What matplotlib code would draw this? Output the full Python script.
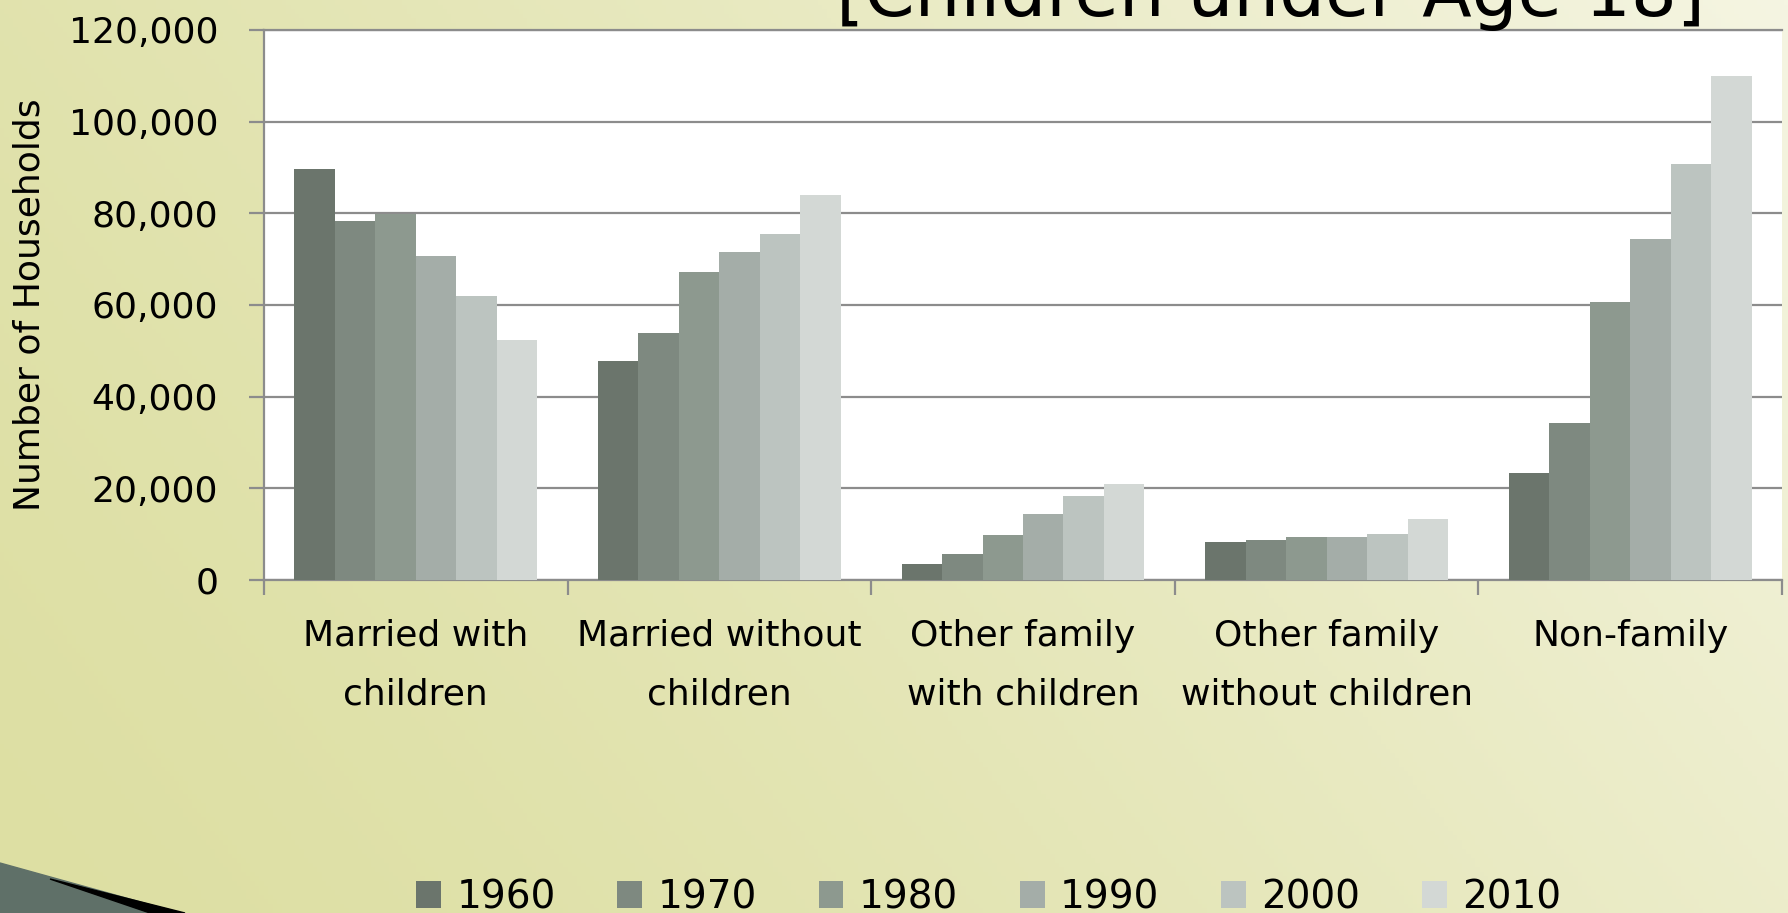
import matplotlib
matplotlib.use("Agg")
import matplotlib.pyplot as plt
import numpy as np

# data
categories = ["Married with\nchildren", "Married without\nchildren", "Other family\nwith children",
              "Other family\nwithout children", "Non-family"]
years = ["1960", "1970", "1980", "1990", "2000", "2010"]
married_with = [89600, 78400, 79800, 70700, 62000, 52400]
married_without = [47700, 53900, 67300, 71600, 75500, 84000]
other_with = [3600, 5600, 9900, 14400, 18400, 21000]
other_without = [8400, 8800, 9300, 9300, 10100, 13300]
non_family = [23400, 34300, 60700, 74400, 90800, 110000]
yticks = [0, 20000, 40000, 60000, 80000, 100000, 120000]

colors = ["#6b756c", "#7e8980", "#8d998f", "#a4ada8", "#bcc4c0", "#d3d8d5"]

W, H = 1788, 913
fig = plt.figure(figsize=(W / 100, H / 100), dpi=100)

# slide background gradient
bg = fig.add_axes([0, 0, 1, 1], zorder=-5)
xx, yy = np.meshgrid(np.linspace(0, 1, 400), np.linspace(1, 0, 200))
s = np.clip(0.72 * xx + 0.28 * yy, 0, 1) ** 1.4
c0 = np.array([221, 223, 163]) / 255
c1 = np.array([245, 245, 226]) / 255
img = c0[None, None, :] + (c1 - c0)[None, None, :] * s[:, :, None]
bg.imshow(img, extent=[0, W, 0, H], aspect="auto", origin="upper")
# corner shape bottom-left
bg.fill([0, 180, 0], [H - 863, 0, 0], color="#5f7068", zorder=2)
bg.fill([50, 185, 150], [H - 879, 0, 0], color="black", zorder=3)
bg.set_xlim(0, W)
bg.set_ylim(0, H)
bg.axis("off")

ax = fig.add_axes([264 / W, 1 - 580 / H, (1782 - 264) / W, 550 / H])
ax.set_facecolor("white")

series = np.array([married_with, married_without, other_with, other_without, non_family]).T
x = np.arange(len(categories))
bw = 0.8 / len(years)
bars = []
for i, yr in enumerate(years):
    b = ax.bar(x - 0.4 + bw * (i + 0.5), series[i], width=bw, color=colors[i],
               edgecolor="none", label=yr, zorder=3)
    bars.append(b)

ax.set_xlim(-0.5, len(categories) - 0.5)
ax.set_ylim(0, 120000)
ax.set_yticks(yticks)
ax.set_yticklabels([f"{v:,}" for v in yticks])
ax.yaxis.grid(True, color="#8c8c8c", lw=1.6, zorder=0)
ax.set_axisbelow(True)

ax.set_xticks(np.arange(-0.5, len(categories)), minor=False)
ax.set_xticklabels([])
ax.set_xticks(x, minor=True)
ax.set_xticklabels(categories, minor=True, fontsize=26, linespacing=1.9)
ax.tick_params(axis="x", which="major", length=11, width=1.6, color="#8c8c8c")
ax.tick_params(axis="x", which="minor", length=0, pad=28)
ax.tick_params(axis="y", length=11, width=1.6, color="#8c8c8c", labelsize=26, pad=22)

ax.spines["right"].set_visible(False)
for sp in ["left", "bottom", "top"]:
    ax.spines[sp].set_color("#8c8c8c")
    ax.spines[sp].set_linewidth(1.6)

fig.text(30 / W, 0.666, "Number of Households", rotation=90, ha="center", va="center", fontsize=26)

fig.text(1271 / W, 1 - 16 / H, "[Children under Age 18]", ha="center", va="baseline", fontsize=52)

fig.legend(handles=bars, labels=years, loc="center", bbox_to_anchor=(0.553, 0.017), ncol=6,
           frameon=False, fontsize=28, handlelength=0.64, handleheight=0.7,
           handletextpad=0.4, columnspacing=1.58)

fig.savefig("out.png", dpi=100)
